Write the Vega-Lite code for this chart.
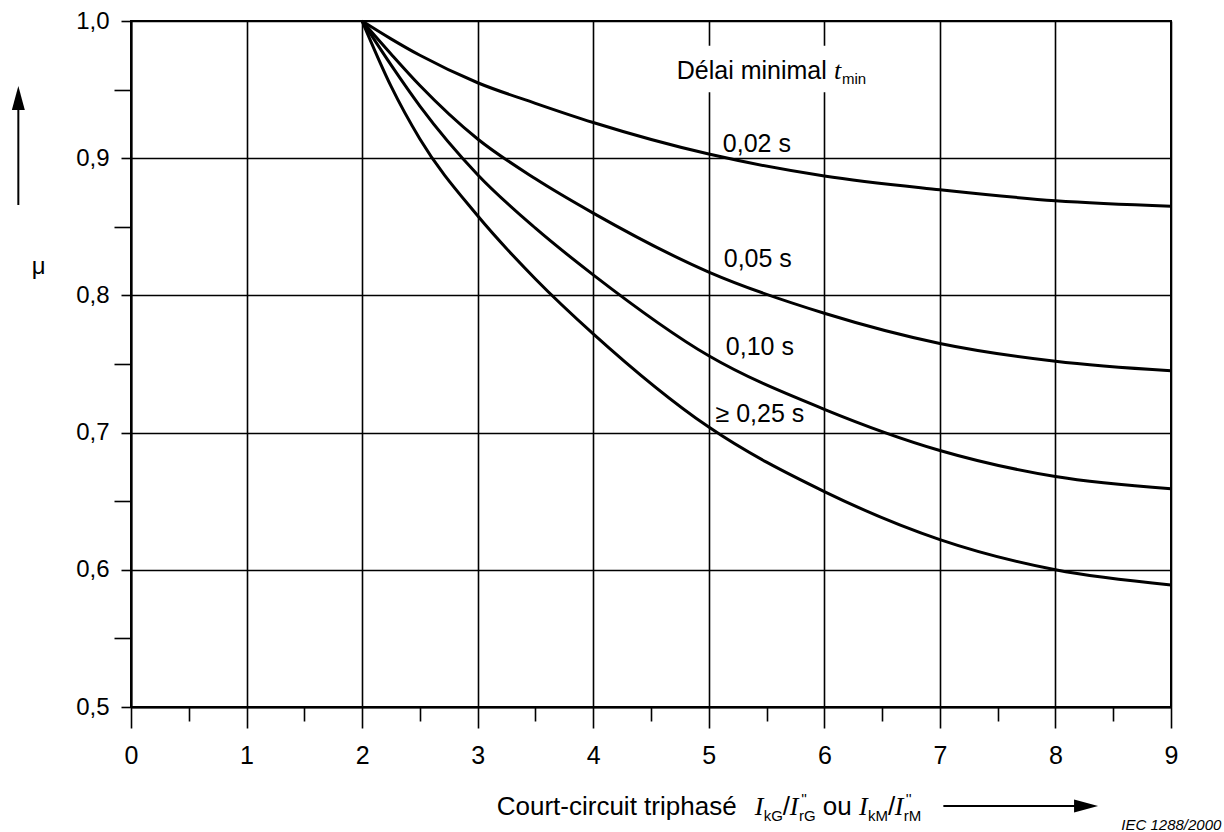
{
  "$schema": "https://vega.github.io/schema/vega-lite/v6.json",
  "width": 1040,
  "height": 686,
  "autosize": {"type": "none"},
  "padding": {"left": 131, "top": 21, "right": 53, "bottom": 125},
  "background": "white",
  "config": {
    "view": {"stroke": "black", "strokeWidth": 2},
    "text": {"font": "Liberation Sans", "color": "black"},
    "axis": {"labelFont": "Liberation Sans", "labelColor": "black", "domainColor": "black", "domainWidth": 2, "tickColor": "black", "tickWidth": 1.6, "gridColor": "black", "gridWidth": 1.6}
  },
  "datasets": {
    "curves": [
      {"tmin": "0,02 s", "ratio": 2, "mu": 1.0},
      {"tmin": "0,02 s", "ratio": 2.25, "mu": 0.987},
      {"tmin": "0,02 s", "ratio": 2.5, "mu": 0.975},
      {"tmin": "0,02 s", "ratio": 3, "mu": 0.955},
      {"tmin": "0,02 s", "ratio": 3.5, "mu": 0.940},
      {"tmin": "0,02 s", "ratio": 4, "mu": 0.926},
      {"tmin": "0,02 s", "ratio": 5, "mu": 0.903},
      {"tmin": "0,02 s", "ratio": 6, "mu": 0.887},
      {"tmin": "0,02 s", "ratio": 7, "mu": 0.877},
      {"tmin": "0,02 s", "ratio": 8, "mu": 0.869},
      {"tmin": "0,02 s", "ratio": 9, "mu": 0.865},
      {"tmin": "0,05 s", "ratio": 2, "mu": 1.0},
      {"tmin": "0,05 s", "ratio": 2.25, "mu": 0.976},
      {"tmin": "0,05 s", "ratio": 2.5, "mu": 0.953},
      {"tmin": "0,05 s", "ratio": 3, "mu": 0.914},
      {"tmin": "0,05 s", "ratio": 3.5, "mu": 0.885},
      {"tmin": "0,05 s", "ratio": 4, "mu": 0.860},
      {"tmin": "0,05 s", "ratio": 5, "mu": 0.817},
      {"tmin": "0,05 s", "ratio": 6, "mu": 0.787},
      {"tmin": "0,05 s", "ratio": 7, "mu": 0.765},
      {"tmin": "0,05 s", "ratio": 8, "mu": 0.752},
      {"tmin": "0,05 s", "ratio": 9, "mu": 0.745},
      {"tmin": "0,10 s", "ratio": 2, "mu": 1.0},
      {"tmin": "0,10 s", "ratio": 2.25, "mu": 0.968},
      {"tmin": "0,10 s", "ratio": 2.5, "mu": 0.938},
      {"tmin": "0,10 s", "ratio": 3, "mu": 0.888},
      {"tmin": "0,10 s", "ratio": 3.5, "mu": 0.849},
      {"tmin": "0,10 s", "ratio": 4, "mu": 0.815},
      {"tmin": "0,10 s", "ratio": 5, "mu": 0.756},
      {"tmin": "0,10 s", "ratio": 6, "mu": 0.717},
      {"tmin": "0,10 s", "ratio": 7, "mu": 0.687},
      {"tmin": "0,10 s", "ratio": 8, "mu": 0.668},
      {"tmin": "0,10 s", "ratio": 9, "mu": 0.659},
      {"tmin": "0,25 s", "ratio": 2, "mu": 1.0},
      {"tmin": "0,25 s", "ratio": 2.25, "mu": 0.9525},
      {"tmin": "0,25 s", "ratio": 2.5, "mu": 0.914},
      {"tmin": "0,25 s", "ratio": 3, "mu": 0.858},
      {"tmin": "0,25 s", "ratio": 3.5, "mu": 0.812},
      {"tmin": "0,25 s", "ratio": 4, "mu": 0.772},
      {"tmin": "0,25 s", "ratio": 5, "mu": 0.704},
      {"tmin": "0,25 s", "ratio": 6, "mu": 0.657},
      {"tmin": "0,25 s", "ratio": 7, "mu": 0.622},
      {"tmin": "0,25 s", "ratio": 8, "mu": 0.600},
      {"tmin": "0,25 s", "ratio": 9, "mu": 0.589}
    ],
    "curveLabels": [
      {"label": "0,02 s", "ratio": 5.416, "mu": 0.9104},
      {"label": "0,05 s", "ratio": 5.424, "mu": 0.8265},
      {"label": "0,10 s", "ratio": 5.442, "mu": 0.7624},
      {"label": "≥ 0,25 s", "ratio": 5.442, "mu": 0.7136}
    ],
    "legendBox": [{"ratio": 4.68, "ratio2": 6.45, "mu": 0.948, "mu2": 0.982}],
    "legendText": [{"label": "Délai minimal", "ratio": 4.723, "mu": 0.9577}],
    "legendItalic": [{"label": "t", "ratio": 6.083, "mu": 0.9577}],
    "legendSub": [{"label": "min", "ratio": 6.152, "mu": 0.9541}],
    "yTitle": [{"label": "μ", "ratio": -0.80, "mu": 0.821}],
    "yArrowLine": [{"ratio": -0.975, "mu": 0.8659, "mu2": 0.94}],
    "yArrowHead": [{"ratio": -0.975, "mu": 0.9439}],
    "xTitleText": [
      {"label": "Court-circuit triphasé", "ratio": 3.165, "mu": 0.4213},
      {"label": "/", "ratio": 5.640, "mu": 0.4213},
      {"label": "ou", "ratio": 5.987, "mu": 0.4213},
      {"label": "/", "ratio": 6.55, "mu": 0.4213}
    ],
    "xTitleItalic": [
      {"label": "I", "ratio": 5.398, "mu": 0.4213},
      {"label": "I", "ratio": 5.701, "mu": 0.4213},
      {"label": "I", "ratio": 6.30, "mu": 0.4213},
      {"label": "I", "ratio": 6.61, "mu": 0.4213}
    ],
    "xTitleSub": [
      {"label": "kG", "ratio": 5.476, "mu": 0.4169},
      {"label": "rG", "ratio": 5.781, "mu": 0.4169},
      {"label": "kM", "ratio": 6.377, "mu": 0.4169},
      {"label": "rM", "ratio": 6.688, "mu": 0.4169}
    ],
    "xTitleSup": [
      {"label": "''", "ratio": 5.80, "mu": 0.4293},
      {"label": "''", "ratio": 6.705, "mu": 0.4293}
    ],
    "xArrowLine": [{"ratio": 7.03, "ratio2": 8.21, "mu": 0.4278}],
    "xArrowHead": [{"ratio": 8.265, "mu": 0.4278}],
    "source": [{"label": "IEC  1288/2000", "ratio": 8.57, "mu": 0.4104}]
  },
  "layer": [
    {
      "data": {"name": "legendBox"},
      "mark": {"type": "rect", "fill": "white", "stroke": null},
      "encoding": {
        "x": {"field": "ratio", "type": "quantitative", "scale": {"domain": [0, 9], "nice": false, "zero": false},
          "axis": {
            "values": [0, 0.5, 1, 1.5, 2, 2.5, 3, 3.5, 4, 4.5, 5, 5.5, 6, 6.5, 7, 7.5, 8, 8.5, 9],
            "title": null,
            "grid": true,
            "gridOpacity": {"condition": {"test": "abs(datum.value - round(datum.value)) > 0.01", "value": 0}, "value": 1},
            "tickSize": {"condition": {"test": "abs(datum.value - round(datum.value)) > 0.01", "value": 14}, "value": 21},
            "labelExpr": "abs(datum.value - round(datum.value)) > 0.01 ? '' : format(datum.value, 'd')",
            "labelFontSize": 25,
            "labelPadding": 15,
            "labelFlush": false,
            "labelOverlap": false
          }
        },
        "x2": {"field": "ratio2"},
        "y": {"field": "mu", "type": "quantitative", "scale": {"domain": [0.5, 1.0], "nice": false, "zero": false},
          "axis": {
            "values": [0.5, 0.55, 0.6, 0.65, 0.7, 0.75, 0.8, 0.85, 0.9, 0.95, 1.0],
            "title": null,
            "grid": true,
            "gridOpacity": {"condition": {"test": "abs(datum.value*10 - round(datum.value*10)) > 0.01", "value": 0}, "value": 1},
            "tickSize": {"condition": {"test": "abs(datum.value*10 - round(datum.value*10)) > 0.01", "value": 17}, "value": 10},
            "labelExpr": "abs(datum.value*10 - round(datum.value*10)) > 0.01 ? '' : replace(format(datum.value, '.1f'), '.', ',')",
            "labelFontSize": 24,
            "labelPadding": 12,
            "labelFlush": false,
            "labelOverlap": false
          }
        },
        "y2": {"field": "mu2"}
      }
    },
    {
      "data": {"name": "curves"},
      "mark": {"type": "line", "color": "black", "strokeWidth": 3, "interpolate": "monotone"},
      "encoding": {
        "x": {"field": "ratio", "type": "quantitative"},
        "y": {"field": "mu", "type": "quantitative"},
        "detail": {"field": "tmin", "type": "nominal"}
      }
    },
    {
      "data": {"name": "curveLabels"},
      "mark": {"type": "text", "fontSize": 25, "align": "center", "baseline": "middle"},
      "encoding": {
        "x": {"field": "ratio", "type": "quantitative"},
        "y": {"field": "mu", "type": "quantitative"},
        "text": {"field": "label"}
      }
    },
    {
      "data": {"name": "legendText"},
      "mark": {"type": "text", "fontSize": 25, "align": "left", "baseline": "alphabetic"},
      "encoding": {
        "x": {"field": "ratio", "type": "quantitative"},
        "y": {"field": "mu", "type": "quantitative"},
        "text": {"field": "label"}
      }
    },
    {
      "data": {"name": "legendItalic"},
      "mark": {"type": "text", "font": "Liberation Serif", "fontStyle": "italic", "fontSize": 26, "align": "left", "baseline": "alphabetic"},
      "encoding": {
        "x": {"field": "ratio", "type": "quantitative"},
        "y": {"field": "mu", "type": "quantitative"},
        "text": {"field": "label"}
      }
    },
    {
      "data": {"name": "legendSub"},
      "mark": {"type": "text", "fontSize": 15, "align": "left", "baseline": "alphabetic"},
      "encoding": {
        "x": {"field": "ratio", "type": "quantitative"},
        "y": {"field": "mu", "type": "quantitative"},
        "text": {"field": "label"}
      }
    },
    {
      "data": {"name": "yTitle"},
      "mark": {"type": "text", "fontSize": 24, "align": "center", "baseline": "middle"},
      "encoding": {
        "x": {"field": "ratio", "type": "quantitative"},
        "y": {"field": "mu", "type": "quantitative"},
        "text": {"field": "label"}
      }
    },
    {
      "data": {"name": "yArrowLine"},
      "mark": {"type": "rule", "color": "black", "strokeWidth": 2},
      "encoding": {
        "x": {"field": "ratio", "type": "quantitative"},
        "y": {"field": "mu", "type": "quantitative"},
        "y2": {"field": "mu2"}
      }
    },
    {
      "data": {"name": "yArrowHead"},
      "mark": {"type": "point", "shape": "M-0.54,1L0,-1L0.54,1Z", "size": 576, "filled": true, "color": "black", "opacity": 1},
      "encoding": {
        "x": {"field": "ratio", "type": "quantitative"},
        "y": {"field": "mu", "type": "quantitative"}
      }
    },
    {
      "data": {"name": "xTitleText"},
      "mark": {"type": "text", "fontSize": 26, "align": "left", "baseline": "alphabetic"},
      "encoding": {
        "x": {"field": "ratio", "type": "quantitative"},
        "y": {"field": "mu", "type": "quantitative"},
        "text": {"field": "label"}
      }
    },
    {
      "data": {"name": "xTitleItalic"},
      "mark": {"type": "text", "font": "Liberation Serif", "fontStyle": "italic", "fontSize": 26, "align": "left", "baseline": "alphabetic"},
      "encoding": {
        "x": {"field": "ratio", "type": "quantitative"},
        "y": {"field": "mu", "type": "quantitative"},
        "text": {"field": "label"}
      }
    },
    {
      "data": {"name": "xTitleSub"},
      "mark": {"type": "text", "fontSize": 15, "align": "left", "baseline": "alphabetic"},
      "encoding": {
        "x": {"field": "ratio", "type": "quantitative"},
        "y": {"field": "mu", "type": "quantitative"},
        "text": {"field": "label"}
      }
    },
    {
      "data": {"name": "xTitleSup"},
      "mark": {"type": "text", "fontSize": 15, "align": "left", "baseline": "alphabetic"},
      "encoding": {
        "x": {"field": "ratio", "type": "quantitative"},
        "y": {"field": "mu", "type": "quantitative"},
        "text": {"field": "label"}
      }
    },
    {
      "data": {"name": "xArrowLine"},
      "mark": {"type": "rule", "color": "black", "strokeWidth": 2},
      "encoding": {
        "x": {"field": "ratio", "type": "quantitative"},
        "x2": {"field": "ratio2"},
        "y": {"field": "mu", "type": "quantitative"}
      }
    },
    {
      "data": {"name": "xArrowHead"},
      "mark": {"type": "point", "shape": "M-1,-0.54L1,0L-1,0.54Z", "size": 576, "filled": true, "color": "black", "opacity": 1},
      "encoding": {
        "x": {"field": "ratio", "type": "quantitative"},
        "y": {"field": "mu", "type": "quantitative"}
      }
    },
    {
      "data": {"name": "source"},
      "mark": {"type": "text", "fontSize": 15, "fontStyle": "italic", "align": "left", "baseline": "alphabetic"},
      "encoding": {
        "x": {"field": "ratio", "type": "quantitative"},
        "y": {"field": "mu", "type": "quantitative"},
        "text": {"field": "label"}
      }
    }
  ]
}
